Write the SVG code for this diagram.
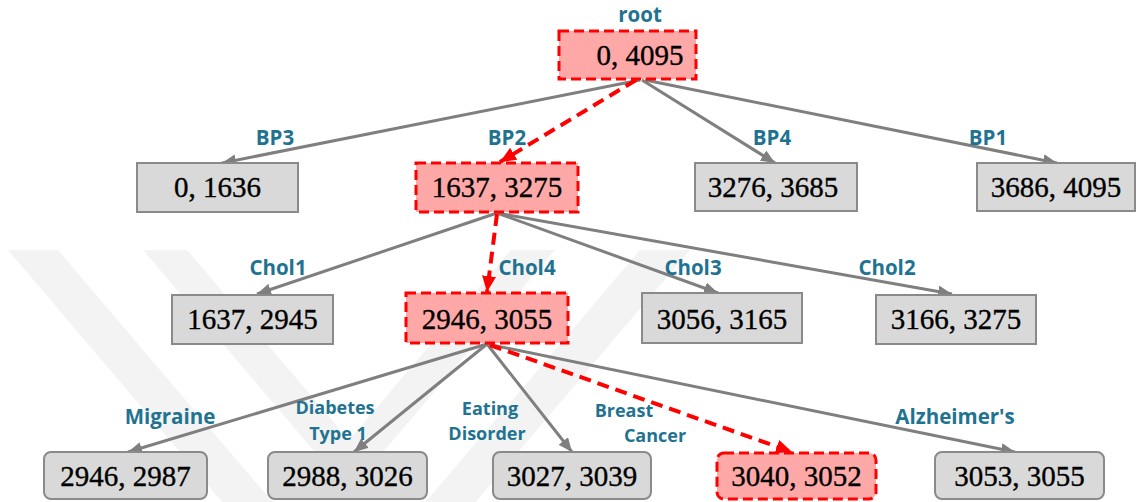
<svg xmlns="http://www.w3.org/2000/svg" width="1138" height="502" viewBox="0 0 1138 502">
  <defs>
    <style>
      .box { fill: #d9d9d9; stroke: #8a8a8a; stroke-width: 2; }
      .hot { fill: #ffa8a8; stroke: #ff0000; stroke-width: 3; stroke-dasharray: 10 5; }
      .num { font-family: "Liberation Serif", "Times New Roman", serif; font-size: 29px; fill: #000; stroke: #000; stroke-width: 0.35; text-anchor: middle; }
      .lbl { font-family: "Open Sans", "Liberation Sans", sans-serif; font-weight: 700; font-size: 20.5px; fill: #1f7391; text-anchor: middle; }
      .lbl2 { font-size: 18px; }
      .edge { fill: none; stroke: #7f7f7f; stroke-width: 3; }
      .path { fill: none; stroke: #ff0000; stroke-width: 4; stroke-dasharray: 12 7; }
      .wm { fill: #f3f3f3; }
    </style>
    <marker id="arrGray" markerUnits="userSpaceOnUse" markerWidth="16" markerHeight="12" refX="14" refY="6" orient="auto">
      <path d="M0,0 L14,6 L0,12 Z" fill="#7f7f7f"/>
    </marker>
    <marker id="arrRed" markerUnits="userSpaceOnUse" markerWidth="18" markerHeight="14" refX="16" refY="7" orient="auto">
      <path d="M0,0 L16,7 L0,14 Z" fill="#ff0000"/>
    </marker>
  </defs>

  <rect width="1138" height="502" fill="#ffffff"/>

  <!-- faint chevron background mark -->
  <g id="backdrop">
    <polygon class="wm" points="8,250 58,250 349,592 640,250 690,250 349,651"/>
    <polygon class="wm" points="143,250 187,250 349,440 511,250 555,250 349,492"/>
  </g>

  <!-- connectors -->
  <g id="connectors">
    <line class="edge" x1="640" y1="80" x2="222" y2="163" marker-end="url(#arrGray)"/>
    <line class="edge" x1="642" y1="80" x2="775" y2="163" marker-end="url(#arrGray)"/>
    <line class="edge" x1="645" y1="80" x2="1057" y2="163" marker-end="url(#arrGray)"/>
    <line class="path" x1="636" y1="80" x2="500" y2="162" marker-end="url(#arrRed)"/>

    <line class="edge" x1="497" y1="213" x2="257" y2="294" marker-end="url(#arrGray)"/>
    <line class="edge" x1="497" y1="213" x2="718" y2="293" marker-end="url(#arrGray)"/>
    <line class="edge" x1="497" y1="213" x2="952" y2="294" marker-end="url(#arrGray)"/>
    <line class="path" x1="497" y1="214" x2="487" y2="292" marker-end="url(#arrRed)"/>

    <line class="edge" x1="487" y1="344" x2="128" y2="452" marker-end="url(#arrGray)"/>
    <line class="edge" x1="487" y1="344" x2="354" y2="452" marker-end="url(#arrGray)"/>
    <line class="edge" x1="487" y1="344" x2="572" y2="452" marker-end="url(#arrGray)"/>
    <line class="edge" x1="487" y1="344" x2="1015" y2="452" marker-end="url(#arrGray)"/>
    <line class="path" x1="490" y1="345" x2="792" y2="452" marker-end="url(#arrRed)"/>
  </g>

  <!-- edge labels -->
  <g id="labels">
    <text class="lbl" x="640" y="22">root</text>
    <text class="lbl" x="275" y="145">BP3</text>
    <text class="lbl" x="507" y="145">BP2</text>
    <text class="lbl" x="772" y="145">BP4</text>
    <text class="lbl" x="988" y="145">BP1</text>
    <text class="lbl" x="278" y="275">Chol1</text>
    <text class="lbl" x="527" y="275">Chol4</text>
    <text class="lbl" x="693" y="275">Chol3</text>
    <text class="lbl" x="887" y="275">Chol2</text>
    <text class="lbl" x="170" y="424">Migraine</text>
    <text class="lbl lbl2" x="335" y="414">Diabetes</text>
    <text class="lbl lbl2" x="338" y="440">Type 1</text>
    <text class="lbl lbl2" x="490" y="415">Eating</text>
    <text class="lbl lbl2" x="487" y="440">Disorder</text>
    <text class="lbl lbl2" x="624" y="417">Breast</text>
    <text class="lbl lbl2" x="655" y="442">Cancer</text>
    <text class="lbl" x="955" y="424">Alzheimer's</text>
  </g>

  <!-- level 0 -->
  <g id="n-root">
    <rect class="hot" x="559" y="31" width="137" height="48"/>
    <text class="num" x="640" y="65">0, 4095</text>
  </g>

  <!-- level 1 -->
  <g id="n-bp3">
    <rect class="box" x="137" y="163" width="161" height="49"/>
    <text class="num" x="217.5" y="197">0, 1636</text>
  </g>
  <g id="n-bp2">
    <rect class="hot" x="416" y="163" width="162" height="49"/>
    <text class="num" x="497" y="197">1637, 3275</text>
  </g>
  <g id="n-bp4">
    <rect class="box" x="695" y="163" width="162" height="48"/>
    <text class="num" x="773" y="197">3276, 3685</text>
  </g>
  <g id="n-bp1">
    <rect class="box" x="977" y="163" width="158" height="48"/>
    <text class="num" x="1056" y="197">3686, 4095</text>
  </g>

  <!-- level 2 -->
  <g id="n-chol1">
    <rect class="box" x="172" y="295" width="161" height="49"/>
    <text class="num" x="252.5" y="329">1637, 2945</text>
  </g>
  <g id="n-chol4">
    <rect class="hot" x="406" y="293" width="162" height="50"/>
    <text class="num" x="487" y="329">2946, 3055</text>
  </g>
  <g id="n-chol3">
    <rect class="box" x="642" y="293" width="160" height="50"/>
    <text class="num" x="722" y="329">3056, 3165</text>
  </g>
  <g id="n-chol2">
    <rect class="box" x="876" y="295" width="160" height="49"/>
    <text class="num" x="956" y="329">3166, 3275</text>
  </g>

  <!-- level 3 -->
  <g id="n-migraine">
    <rect class="box" x="44" y="452" width="163" height="47" rx="7"/>
    <text class="num" x="125.5" y="486">2946, 2987</text>
  </g>
  <g id="n-diabetes">
    <rect class="box" x="268" y="452" width="159" height="47" rx="7"/>
    <text class="num" x="347.5" y="486">2988, 3026</text>
  </g>
  <g id="n-eating">
    <rect class="box" x="493" y="452" width="158" height="47" rx="7"/>
    <text class="num" x="572" y="486">3027, 3039</text>
  </g>
  <g id="n-breast">
    <rect class="hot" x="717" y="453" width="159" height="46" rx="7"/>
    <text class="num" x="796.5" y="486">3040, 3052</text>
  </g>
  <g id="n-alzheimer">
    <rect class="box" x="935" y="452" width="169" height="47" rx="7"/>
    <text class="num" x="1019.5" y="486">3053, 3055</text>
  </g>
</svg>
